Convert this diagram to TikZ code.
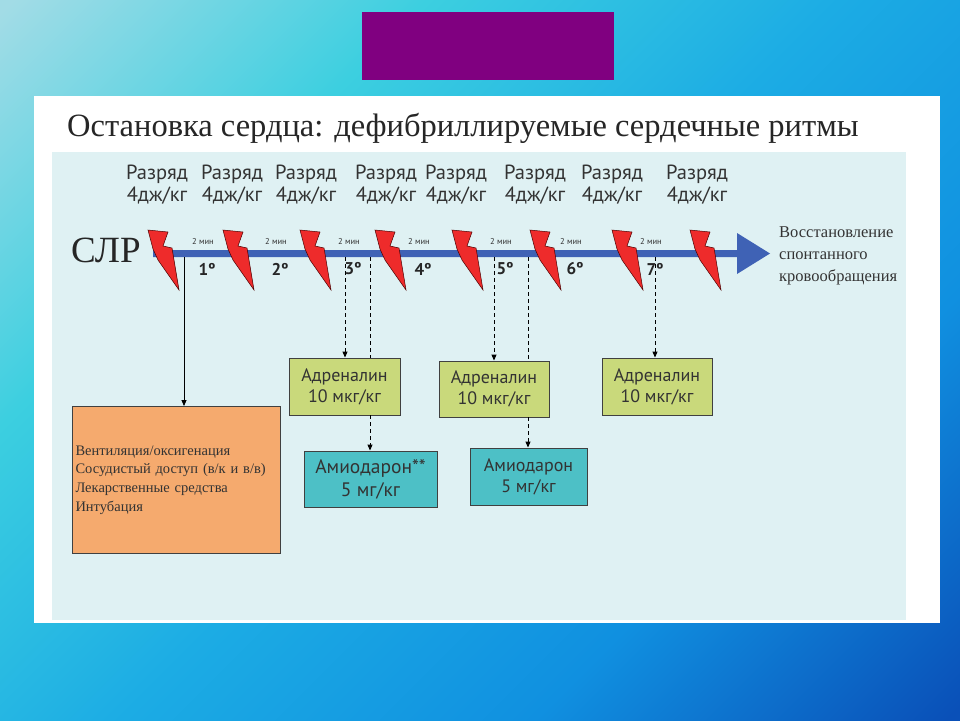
\documentclass[tikz,border=0pt]{standalone}
\usepackage{fontspec}
\setmainfont{Liberation Serif}
\setsansfont{PT Sans}
\usepackage{xcolor}
\usepackage{tikz}
\usetikzlibrary{shapes, arrows, positioning, arrows.meta}

\definecolor{fondoA}{HTML}{A2DCE6}
\definecolor{fondoB}{HTML}{3CCFE0}
\definecolor{fondoC}{HTML}{1CACE4}
\definecolor{fondoD}{HTML}{1090E0}
\definecolor{fondoE}{HTML}{0A50B8}
\definecolor{morado}{HTML}{800080}
\definecolor{panel}{HTML}{DFF1F3}
\definecolor{azul}{HTML}{3F62B5}
\definecolor{rojo}{HTML}{EE2B2B}
\definecolor{adren}{HTML}{C9D97B}
\definecolor{amio}{HTML}{4DC0C6}
\definecolor{naranja}{HTML}{F5AA6E}
\definecolor{texto}{HTML}{333333}
\pgfdeclareverticalshading{fondo}{100bp}{color(0bp)=(fondoE); color(15bp)=(fondoE); color(32.5bp)=(fondoD);
    color(50bp)=(fondoC); color(67.5bp)=(fondoB); color(85bp)=(fondoA); color(100bp)=(fondoA)}

\begin{document}
\begin{tikzpicture}[x=1pt, y=-1pt, every node/.style={inner sep=0pt},
    caja/.style={draw=black!75, line width=0.9pt, font=\sffamily\fontsize{18}{21}\selectfont, text=texto, align=center},
    rayo/.style={fill=rojo, draw=black!70!red, line width=0.5pt, line join=miter},
    flecha/.style={-{Triangle[length=6pt,width=5pt]}, line width=0.8pt},
    guion/.style={dashed, dash pattern=on 4pt off 3pt, line width=0.9pt}]
    % Fondo y marco
    \useasboundingbox (0,0) rectangle (960,720);
    \shade[shading=fondo, shading angle=45] (0,0) rectangle (960,720);
    \fill[morado] (362,12) rectangle (614,80);
    \fill[white] (34,96) rectangle (940,623);
    \fill[panel] (52,152) rectangle (906,620);
    \node[anchor=base west, font=\fontsize{32.5}{36}\selectfont, text=black!85] (titulo) at (67,136)
        {Остановка сердца: дефибриллируемые сердечные ритмы};
    % Flecha del tiempo
    \fill[azul] (153,250) -- (737,250) -- (737,233) -- (770,253.5) -- (737,274) -- (737,257) -- (153,257) -- cycle;
    \node[anchor=base west, font=\fontsize{37}{40}\selectfont, text=black!85] (slr) at (71,262) {СЛР};
    \node[anchor=west, font=\fontsize{16.5}{22}\selectfont, align=left, text=black!80] (rosc) at (779,256)
        {Восстановление\\спонтанного\\кровообращения};
    % Descargas
    \foreach \x/\n in {157/1,232/2,306/3,386/4,456/5,535/6,612/7,697/8} {
        \node[font=\sffamily\fontsize{20.5}{22}\selectfont, align=center, text=texto] (desc\n) at (\x,185) {Разряд\\4дж/кг};
    }
    \foreach \x in {148,223,300,375,452,530,612,690} {
        \filldraw[rayo, shift={(\x,230)}] (0,0) -- (20,2) -- (15,16) -- (24,18) -- (31,60) -- (10,30) -- (5,19) -- cycle;
    }
    \foreach \x/\n in {203/1,276/2,349/3,419/4,501/5,571/6,651/7} {
        \node[font=\sffamily\fontsize{8.5}{10}\selectfont, text=texto] (min\n) at (\x,241) {2 мин};
        \node[font=\sffamily\bfseries\fontsize{17}{20}\selectfont, text=black!85] (ciclo\n) at (\x+4,269) {\n º};
    }
    % Cajas
    \node[caja, fill=naranja, minimum width=208pt, minimum height=147pt, text width=201pt, align=left,
        font=\fontsize{14.5}{18.7}\selectfont] (vent) at (176,480)
        {Вентиляция/оксигенация\\Сосудистый доступ (в/к и в/в)\\Лекарственные средства\\Интубация\\[10pt]};
    \node[caja, fill=adren, minimum width=111pt, minimum height=57pt] (adrA) at (344.5,386.5) {Адреналин\\10 мкг/кг};
    \node[caja, fill=adren, minimum width=110pt, minimum height=56pt] (adrB) at (494,389) {Адреналин\\10 мкг/кг};
    \node[caja, fill=adren, minimum width=110pt, minimum height=57pt] (adrC) at (657,386.5) {Адреналин\\10 мкг/кг};
    \node[caja, fill=amio, minimum width=133pt, minimum height=56pt, font=\sffamily\fontsize{19.5}{23}\selectfont] (amioA) at (370.5,479) {Амиодарон**\\5 мг/кг};
    \node[caja, fill=amio, minimum width=117pt, minimum height=57pt] (amioB) at (528.5,476.5) {Амиодарон\\5 мг/кг};
    % Conectores
    \coordinate (s0) at (184,257);
    \coordinate (s1) at (345,257);
    \coordinate (s2) at (370,257);
    \coordinate (s3) at (494,257);
    \coordinate (s4) at (528,257);
    \coordinate (s5) at (655,257);
    \draw[flecha] (s0) -- (s0 |- vent.north);
    \draw[flecha, guion] (s1) -- (s1 |- adrA.north);
    \draw[guion] (s2) -- (s2 |- adrA.north);
    \draw[flecha, guion] (s2 |- adrA.south) -- (s2 |- amioA.north);
    \draw[flecha, guion] (s3) -- (s3 |- adrB.north);
    \draw[guion] (s4) -- (s4 |- adrB.north);
    \draw[flecha, guion] (s4 |- adrB.south) -- (s4 |- amioB.north);
    \draw[flecha, guion] (s5) -- (s5 |- adrC.north);
\end{tikzpicture}
\end{document}
